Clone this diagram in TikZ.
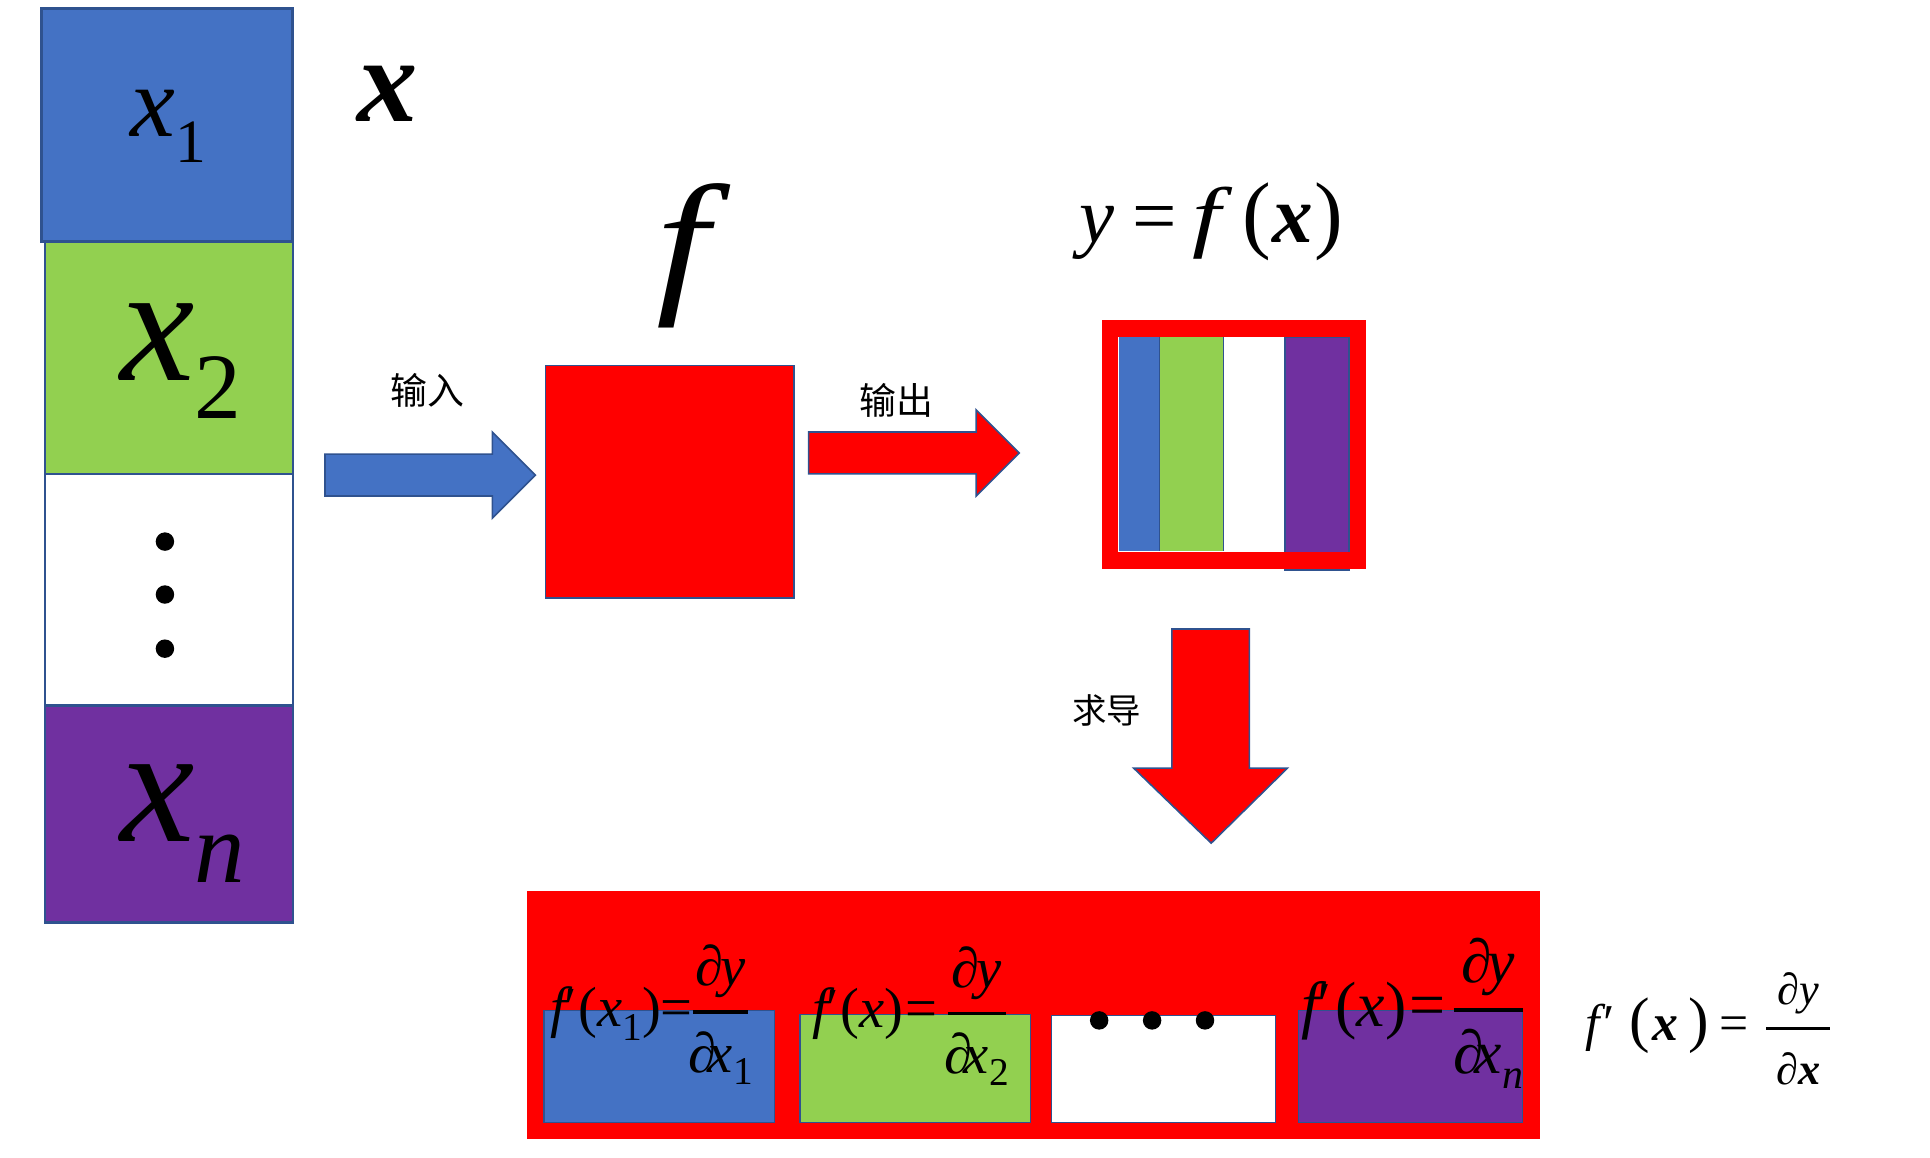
\documentclass[tikz,border=0pt]{standalone}
\usepackage{fontspec}
\newfontfamily\tms{Liberation Serif}
\newfontfamily\cjk{Noto Sans CJK SC}
\definecolor{cblue}{HTML}{4472C4}
\definecolor{cgreen}{HTML}{92D050}
\definecolor{cpurple}{HTML}{7030A0}
\definecolor{edgeb}{HTML}{2F528F}
\definecolor{cred}{HTML}{FF0000}
\newcommand\fs[1]{\fontsize{#1}{#1}\selectfont}
% num, den, width, rule, kern above, kern below
\newcommand\frc[6]{\vbox{\offinterlineskip\hbox to #3{\hss#1\hss}\kern#5\hrule height #4\kern#6\hbox to #3{\hss#2\hss}}}
\tikzset{
  colbox/.style={draw=edgeb, line width=2pt, inner sep=0, outer sep=0},
  cellbox/.style={draw=edgeb, line width=1pt, inner sep=0, outer sep=0},
  lbl/.style={inner sep=0, outer sep=0, font=\tms},
  cjklbl/.style={inner sep=0, outer sep=0, font=\cjk},
  blockarrow/.style={draw=edgeb, line width=1.3pt, line join=miter},
  dotn/.style={circle, fill=black, inner sep=0, minimum size=15pt},
}
\begin{document}
\begin{tikzpicture}[x=1pt,y=-1pt]
\useasboundingbox (0,0) rectangle (1568,940);
% left column
\node[colbox, fill=cgreen, minimum width=201.5, minimum height=189] (b2) at (137.25,290.5) {};
\node[colbox, fill=white, minimum width=201.5, minimum height=188] (b3) at (137.25,479) {};
\node[colbox, fill=cpurple, minimum width=201.5, minimum height=176.5] (b4) at (137.25,661.25) {};
\node[colbox, fill=cblue, line width=2.5pt, minimum width=204, minimum height=189] (b1) at (136,101.5) {};
\node[lbl, anchor=base west] (lx1) at (106,111) {\fs{82}\itshape x\raisebox{-21pt}{\fs{50}\upshape 1}};
\node[lbl, anchor=base west] (lx2) at (98,309) {\fs{136}\itshape x\raisebox{-31pt}{\fs{76}\upshape 2}};
\node[lbl, anchor=base west] (lxn) at (98,684) {\fs{136}\itshape x\raisebox{-33pt}{\fs{82}\itshape n}};
\node[dotn] (v1) at (134,440) {};
\node[dotn] (v2) at (134,483) {};
\node[dotn] (v3) at (134,527) {};
\node[lbl, anchor=base] (bx) at (315,99) {\fs{98}\bfseries\itshape x};
% input arrow
\draw[blockarrow, fill=cblue] (264,369) -- (400,369) -- (400,351) -- (435,386) -- (400,421) -- (400,403) -- (264,403) -- cycle;
\node[cjklbl] (lin) at (347,317) {\fs{30}输入};
% function box
\node[cellbox, fill=cred, line width=1.2pt, minimum width=202, minimum height=189] (fbox) at (544,391.5) {};
\node[lbl, anchor=base] (flab) at (555,239) {\scalebox{1.2}[1]{\fs{128}\itshape f}};
% output arrow
\draw[blockarrow, fill=cred] (657,351) -- (793,351) -- (793,333) -- (828,368) -- (793,403) -- (793,385) -- (657,385) -- cycle;
\node[cjklbl] (lout) at (728,325) {\fs{30}输出};
% y = f(x)
\node[lbl, anchor=base west] (yfx) at (877,197) {{\fs{64}\itshape y}\hspace{15pt}{\fs{64}=}\hspace{12pt}{\fs{64}\scalebox{1.3}[1]{\itshape f}}\hspace{18pt}{\fs{70}(}\hspace{1pt}{\fs{66}\bfseries\itshape x}\hspace{1pt}{\fs{70})}};
% output vector
\fill[cblue] (909,274) rectangle (942,448);
\fill[cgreen] (942,274) rectangle (994,448);
\fill[white] (994,274) rectangle (1044,448);
\filldraw[fill=cpurple, draw=edgeb, line width=1pt] (1044,274) rectangle (1096,463);
\draw[edgeb, line width=1pt] (942,274) -- (942,448) (994,274) -- (994,448);
\node[draw=cred, line width=13.5pt, inner sep=0, outer sep=0, minimum width=201.5, minimum height=188.5] (ybox) at (1002.5,361) {};
% derivative arrow
\draw[blockarrow, fill=cred] (952,511) -- (1015,511) -- (1015,624) -- (1046,624) -- (984,685) -- (921,624) -- (952,624) -- cycle;
\node[cjklbl] (lder) at (899,577) {\fs{28}求导};
% bottom bar
\node[fill=cred, inner sep=0, outer sep=0, minimum width=823, minimum height=201] (bar) at (839.5,824.5) {};
\node[cellbox, fill=cblue, minimum width=187, minimum height=91] (g1) at (535.5,866.5) {};
\node[cellbox, fill=cgreen, minimum width=187, minimum height=88] (g2) at (743.5,868) {};
\node[cellbox, fill=white, minimum width=182, minimum height=87] (g3) at (945,868.5) {};
\node[cellbox, fill=cpurple, minimum width=182, minimum height=91] (g4) at (1146,866.5) {};
\node[dotn] (h1) at (893,829) {};
\node[dotn] (h2) at (936,829) {};
\node[dotn] (h3) at (979,829) {};
% formulas in cells
\node[lbl, anchor=base west] (e1l) at (447,834) {\fs{46}\itshape f\kern-1pt\upshape′\kern1pt(\itshape x\raisebox{-11pt}{\fs{32}\upshape 1}\upshape)=};
\node[lbl, anchor=base] (e1r) at (585.5,871) {\frc{\fs{46}∂\kern-3pt\itshape y}{\fs{46}∂\kern-7pt\itshape x\raisebox{-10pt}{\fs{32}\upshape 1}}{45pt}{3pt}{10pt}{14pt}};
\node[lbl, anchor=base west] (e2l) at (660,835) {\fs{46}\itshape f\kern-1pt\upshape′\kern1pt(\itshape x\upshape)\kern2pt=};
\node[lbl, anchor=base] (e2r) at (793.5,872) {\frc{\fs{46}∂\kern-3pt\itshape y}{\fs{46}∂\kern-7pt\itshape x\raisebox{-10pt}{\fs{32}\upshape 2}}{47pt}{3pt}{10pt}{14pt}};
\node[lbl, anchor=base west] (e3l) at (1057,834) {\fs{52}\itshape f\kern-1pt\upshape′\kern3pt(\itshape x\upshape)\kern3pt=};
\node[lbl, anchor=base] (e3r) at (1209,872) {\frc{\fs{50}∂\kern-3pt\itshape y}{\fs{50}∂\kern-7pt\itshape x\raisebox{-12pt}{\fs{34}\itshape n}}{56pt}{3pt}{10pt}{14pt}};
% general formula
\node[lbl, anchor=base west] (gl) at (1288,845) {\fs{42}\itshape f\kern3pt\upshape′\kern12pt{\fs{50}(}\kern2pt\bfseries\itshape x\mdseries\upshape\kern8pt{\fs{50})}\kern9pt=};
\node[lbl, anchor=base] (gr) at (1461,881) {\frc{\fs{36}∂\itshape y}{\fs{36}∂\bfseries\itshape x}{52pt}{2.5pt}{11pt}{18pt}};
\end{tikzpicture}
\end{document}
